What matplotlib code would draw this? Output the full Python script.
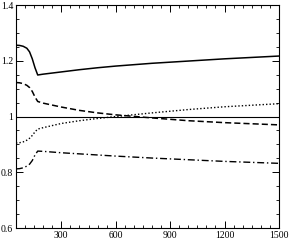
import matplotlib
matplotlib.use('Agg')
import matplotlib.pyplot as plt
from matplotlib.ticker import MultipleLocator, FixedLocator

plt.rcParams['font.family'] = ['Liberation Serif', 'DejaVu Serif']

# data
x = [50, 70, 90, 110, 125, 140, 155, 170, 200, 300, 400, 500, 600, 800, 1000, 1200, 1500]
solid = [1.256, 1.255, 1.252, 1.245, 1.232, 1.207, 1.175, 1.149, 1.152, 1.160, 1.168, 1.175,
         1.181, 1.191, 1.199, 1.207, 1.217]
dashed = [1.122, 1.121, 1.118, 1.112, 1.104, 1.090, 1.070, 1.054, 1.048, 1.034, 1.022, 1.013,
          1.006, 0.995, 0.985, 0.978, 0.970]
dotted = [0.905, 0.906, 0.909, 0.915, 0.922, 0.932, 0.945, 0.955, 0.960, 0.975, 0.985, 0.993,
          1.000, 1.013, 1.025, 1.035, 1.046]
dashdot = [0.812, 0.813, 0.816, 0.822, 0.829, 0.842, 0.862, 0.876, 0.875, 0.870, 0.866, 0.862,
           0.858, 0.851, 0.845, 0.839, 0.832]

xticks = [300, 600, 900, 1200, 1500]
yticks = [0.6, 0.8, 1.0, 1.2, 1.4]
ylabels = ['0.6', '0.8', '1', '1.2', '1.4']

fig = plt.figure(figsize=(2.9, 2.4), dpi=100)
ax = fig.add_axes([0.055, 0.05, 0.907, 0.929])

ax.axhline(1.0, color='black', lw=0.8)
ax.plot(x, solid, color='black', lw=1.1, ls='-')
ax.plot(x, dashed, color='black', lw=1.1, ls=(0, (4, 2)))
ax.plot(x, dotted, color='black', lw=1.0, ls=(0, (1, 1.5)))
ax.plot(x, dashdot, color='black', lw=1.0, ls=(0, (5, 2, 1, 2)))

ax.set_xlim(50, 1500)
ax.set_ylim(0.6, 1.4)
ax.xaxis.set_major_locator(FixedLocator(xticks))
ax.xaxis.set_minor_locator(MultipleLocator(50))
ax.yaxis.set_major_locator(FixedLocator(yticks))
ax.yaxis.set_minor_locator(MultipleLocator(0.05))
ax.set_yticklabels(ylabels)
ax.tick_params(which='both', direction='in', top=True, right=True, labelsize=7, pad=2)
ax.tick_params(which='major', length=5, width=0.7)
ax.tick_params(which='minor', length=2.5, width=0.6)
for s in ax.spines.values():
    s.set_linewidth(0.8)

fig.savefig('out.png', dpi=100)
